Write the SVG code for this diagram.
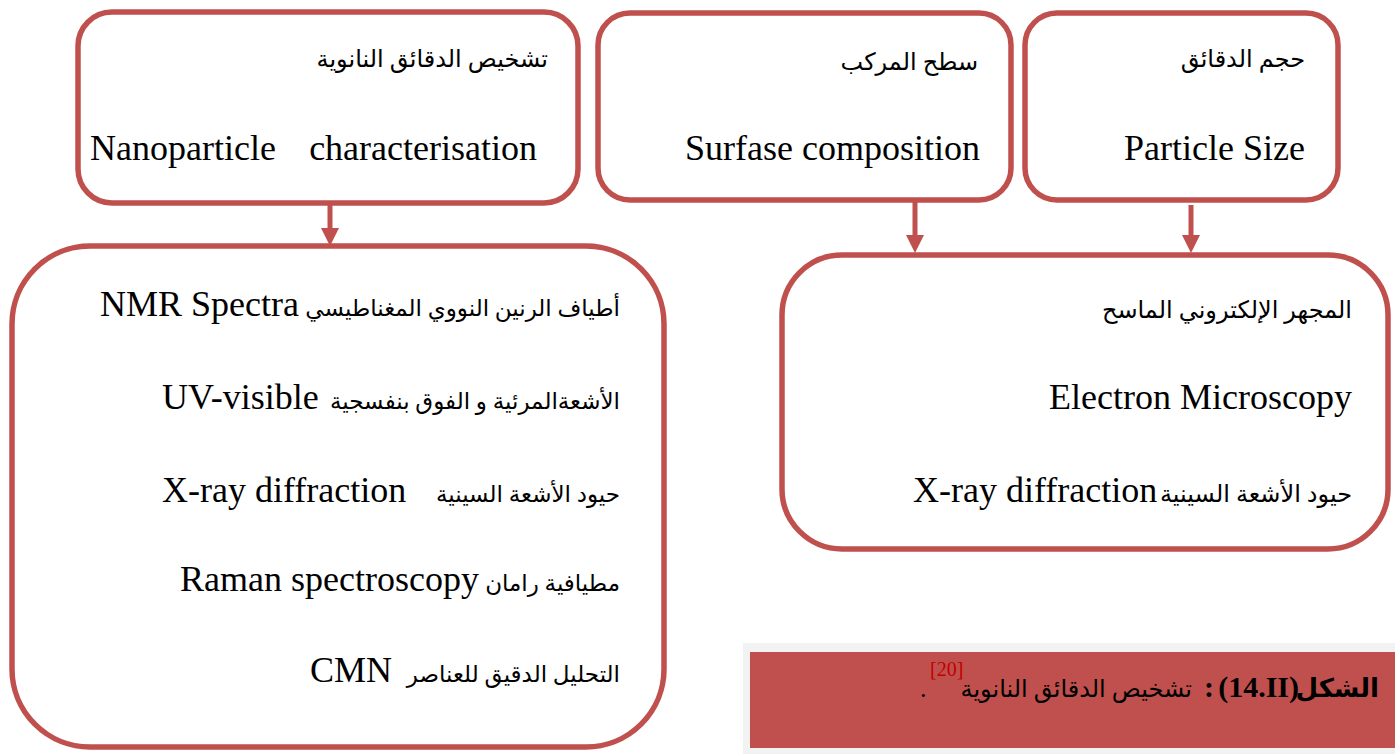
<svg xmlns="http://www.w3.org/2000/svg" width="1395" height="754" viewBox="0 0 1395 754">
<style>
.box{fill:#fff;stroke:#C0504D;stroke-width:5.5}
.lat{font-family:"Liberation Serif","DejaVu Serif",serif;font-size:36px;fill:#000}
.ar{font-family:"Liberation Serif","DejaVu Sans",serif;font-size:24px;fill:#000}
.ar4{font-size:23px}
.arr{stroke:#C0504D;stroke-width:5;fill:none}
.head{fill:#C0504D}
</style>
<rect x="0" y="0" width="1395" height="754" fill="#fff"/>
<g id="n1">
<rect class="box" x="78" y="12" width="500" height="191" rx="34"/>
<text class="ar" x="548" y="67" text-anchor="end">تشخيص الدقائق النانوية</text>
<text class="lat" x="90" y="160">Nanoparticle</text>
<text class="lat" x="537" y="160" text-anchor="end">characterisation</text>
</g>
<g id="n2">
<rect class="box" x="598" y="13" width="413" height="187" rx="32"/>
<text class="ar" x="978" y="70" text-anchor="end">سطح المركب</text>
<text class="lat" x="980" y="160" text-anchor="end">Surfase composition</text>
</g>
<g id="n3">
<rect class="box" x="1025" y="13" width="313" height="187" rx="32"/>
<text class="ar" x="1305" y="67" text-anchor="end">حجم الدقائق</text>
<text class="lat" x="1305" y="160" text-anchor="end">Particle Size</text>
</g>
<g id="n4">
<rect class="box" x="12" y="246" width="652" height="501" rx="78"/>
<text class="ar ar4" x="620" y="316" text-anchor="end">أطياف الرنين النووي المغناطيسي</text>
<text class="lat" x="100" y="316">NMR Spectra</text>
<text class="ar ar4" x="620" y="409" text-anchor="end">الأشعةالمرئية و الفوق بنفسجية</text>
<text class="lat" x="162" y="409">UV-visible</text>
<text class="ar ar4" x="620" y="502" text-anchor="end">حيود الأشعة السينية</text>
<text class="lat" x="162" y="502">X-ray diffraction</text>
<text class="ar ar4" x="620" y="591" text-anchor="end">مطيافية رامان</text>
<text class="lat" x="180" y="591">Raman spectroscopy</text>
<text class="ar ar4" x="620" y="682" text-anchor="end">التحليل الدقيق للعناصر</text>
<text class="lat" x="310" y="682">CMN</text>
</g>
<g id="n5">
<rect class="box" x="782" y="255" width="606" height="294" rx="60"/>
<text class="ar" x="1352" y="318" text-anchor="end">المجهر الإلكتروني الماسح</text>
<text class="lat" x="1352" y="409" text-anchor="end">Electron Microscopy</text>
<text class="ar" x="1352" y="502" text-anchor="end">حيود الأشعة السينية</text>
<text class="lat" x="913" y="502">X-ray diffraction</text>
</g>
<g id="connectors">
<line class="arr" x1="330" y1="205" x2="330" y2="230"/>
<polygon class="head" points="321,228 339,228 330,246"/>
<line class="arr" x1="915" y1="202" x2="915" y2="237"/>
<polygon class="head" points="906,235 924,235 915,253"/>
<line class="arr" x1="1191" y1="205" x2="1191" y2="237"/>
<polygon class="head" points="1182,235 1200,235 1191,253"/>
</g>
<g id="caption">
<rect x="743" y="643" width="652" height="111" fill="#F2F2F2"/>
<rect x="750" y="652" width="645" height="96" fill="#C0504D"/>
<text x="1379" y="697" text-anchor="end" font-family="Liberation Serif, DejaVu Sans, serif" font-size="26" font-weight="bold" fill="#000">الشكل</text>
<text x="1299" y="697" text-anchor="end" font-family="Liberation Serif, serif" font-size="30" font-weight="bold" fill="#000">(14.II)</text>
<text x="1214" y="697" text-anchor="end" font-family="Liberation Serif, serif" font-size="30" font-weight="bold" fill="#000">:</text>
<text class="ar" x="1192" y="697" text-anchor="end">تشخيص الدقائق النانوية</text>
<text x="930" y="676" font-family="Liberation Serif, serif" font-size="20" fill="#C00000">[20]</text>
<text x="920" y="697" font-family="Liberation Serif, serif" font-size="26" fill="#000">.</text>
</g>
</svg>
